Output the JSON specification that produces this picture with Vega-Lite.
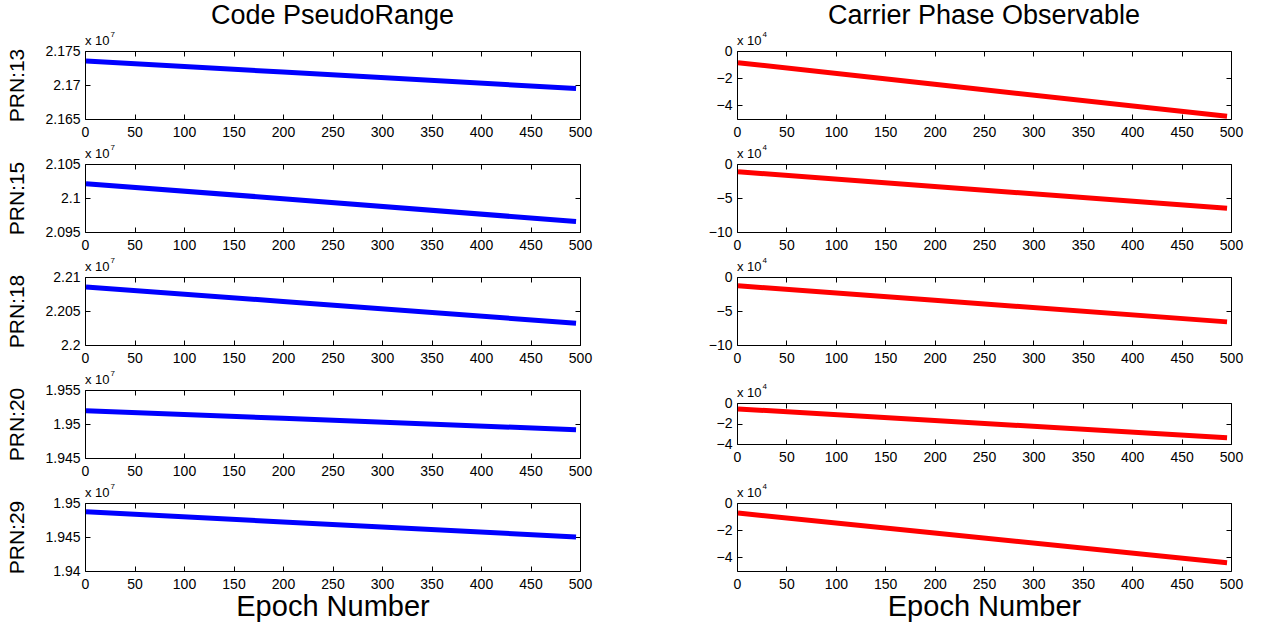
{
  "$schema": "https://vega.github.io/schema/vega-lite/v6.json",
  "background": "white",
  "padding": {"left": 6, "top": 1, "right": 0, "bottom": 0},
  "data": {"values": [
    {"prn": 13, "epoch": 1, "code": 21735200, "phase": -8600},
    {"prn": 13, "epoch": 200, "code": 21719000, "phase": -24500},
    {"prn": 13, "epoch": 496, "code": 21694800, "phase": -48000},
    {"prn": 15, "epoch": 1, "code": 21021100, "phase": -11400},
    {"prn": 15, "epoch": 200, "code": 20999000, "phase": -33000},
    {"prn": 15, "epoch": 496, "code": 20965400, "phase": -65200},
    {"prn": 18, "epoch": 1, "code": 22085300, "phase": -13000},
    {"prn": 18, "epoch": 200, "code": 22064000, "phase": -34300},
    {"prn": 18, "epoch": 496, "code": 22032000, "phase": -66000},
    {"prn": 20, "epoch": 1, "code": 19519400, "phase": -5800},
    {"prn": 20, "epoch": 200, "code": 19508300, "phase": -17100},
    {"prn": 20, "epoch": 496, "code": 19491600, "phase": -34000},
    {"prn": 29, "epoch": 1, "code": 19487100, "phase": -7400},
    {"prn": 29, "epoch": 200, "code": 19472200, "phase": -22100},
    {"prn": 29, "epoch": 496, "code": 19450000, "phase": -44000}
  ]},
  "config": {
    "view": {"stroke": "#000000", "strokeWidth": 1},
    "axis": {"grid": false, "domain": false, "domainColor": "#000000", "labelFont": "Liberation Sans", "labelFontSize": 14, "labelColor": "#000000", "tickColor": "#000000", "tickSize": -5, "labelPadding": 10, "labelFlush": false, "labelOverlap": false, "labelBound": false, "titleFont": "Liberation Sans", "titleFontWeight": "normal", "titleColor": "#000000"},
    "axisX": {"labelPadding": 11},
    "text": {"font": "Liberation Sans", "color": "#000000"},
    "title": {"font": "Liberation Sans", "fontWeight": "normal", "color": "#000000"}
  },
  "columns": 2,
  "bounds": "flush",
  "spacing": {"row": 45, "column": 157},
  "concat": [
    {
      "width": 495, "height": 68,
      "title": {"text": "Code PseudoRange", "fontSize": 27, "frame": "group", "offset": 1},
      "transform": [{"filter": "datum.prn == 13"}],
      "layer": [
        {"mark": {"type": "line", "color": "#0000ff", "strokeWidth": 5, "strokeCap": "butt"},
         "encoding": {
           "x": {"field": "epoch", "type": "quantitative", "scale": {"domain": [0, 500], "nice": false}, "axis": {"values": [0,50,100,150,200,250,300,350,400,450,500], "title": null}},
           "y": {"field": "code", "type": "quantitative", "scale": {"domain": [21650000, 21750000], "nice": false, "zero": false}, "axis": {"values": [21650000, 21700000, 21750000], "labelExpr": "format(datum.value/1e7, '.4~g')", "title": "PRN:13", "titleFontSize": 21, "titlePadding": 17}}
         }},
        {"mark": {"type": "line", "opacity": 0},
         "encoding": {
           "x": {"field": "epoch", "type": "quantitative", "axis": {"orient": "top", "labels": false, "title": null, "values": [0,50,100,150,200,250,300,350,400,450,500]}},
           "y": {"field": "code", "type": "quantitative", "axis": {"orient": "right", "labels": false, "title": null, "values": [21650000, 21700000, 21750000]}}
         }},
        {"transform": [{"filter": "datum.epoch == 1"}],
         "mark": {"type": "text", "text": "x 10", "align": "left", "baseline": "alphabetic", "fontSize": 13, "dy": -6},
         "encoding": {"x": {"datum": 0, "type": "quantitative", "axis": null}, "y": {"datum": 21750000, "type": "quantitative", "axis": null}}},
        {"transform": [{"filter": "datum.epoch == 1"}],
         "mark": {"type": "text", "text": "7", "align": "left", "baseline": "alphabetic", "fontSize": 8, "dx": 25.5, "dy": -14},
         "encoding": {"x": {"datum": 0, "type": "quantitative", "axis": null}, "y": {"datum": 21750000, "type": "quantitative", "axis": null}}}
      ],
      "resolve": {"axis": {"x": "independent", "y": "independent"}}
    },
    {
      "width": 494, "height": 68,
      "title": {"text": "Carrier Phase Observable", "fontSize": 27, "frame": "group", "offset": 1},
      "transform": [{"filter": "datum.prn == 13"}],
      "layer": [
        {"mark": {"type": "line", "color": "#ff0000", "strokeWidth": 5, "strokeCap": "butt"},
         "encoding": {
           "x": {"field": "epoch", "type": "quantitative", "scale": {"domain": [0, 500], "nice": false}, "axis": {"values": [0,50,100,150,200,250,300,350,400,450,500], "title": null}},
           "y": {"field": "phase", "type": "quantitative", "scale": {"domain": [-50000, 0], "nice": false, "zero": false}, "axis": {"values": [-40000, -20000, 0], "labelExpr": "format(datum.value/1e4, '~g')", "title": null}}
         }},
        {"mark": {"type": "line", "opacity": 0},
         "encoding": {
           "x": {"field": "epoch", "type": "quantitative", "axis": {"orient": "top", "labels": false, "title": null, "values": [0,50,100,150,200,250,300,350,400,450,500]}},
           "y": {"field": "phase", "type": "quantitative", "axis": {"orient": "right", "labels": false, "title": null, "values": [-40000, -20000, 0]}}
         }},
        {"transform": [{"filter": "datum.epoch == 1"}],
         "mark": {"type": "text", "text": "x 10", "align": "left", "baseline": "alphabetic", "fontSize": 13, "dy": -6},
         "encoding": {"x": {"datum": 0, "type": "quantitative", "axis": null}, "y": {"datum": 0, "type": "quantitative", "axis": null}}},
        {"transform": [{"filter": "datum.epoch == 1"}],
         "mark": {"type": "text", "text": "4", "align": "left", "baseline": "alphabetic", "fontSize": 8, "dx": 25.5, "dy": -14},
         "encoding": {"x": {"datum": 0, "type": "quantitative", "axis": null}, "y": {"datum": 0, "type": "quantitative", "axis": null}}}
      ],
      "resolve": {"axis": {"x": "independent", "y": "independent"}}
    },
    {
      "width": 495, "height": 68,
      "transform": [{"filter": "datum.prn == 15"}],
      "layer": [
        {"mark": {"type": "line", "color": "#0000ff", "strokeWidth": 5, "strokeCap": "butt"},
         "encoding": {
           "x": {"field": "epoch", "type": "quantitative", "scale": {"domain": [0, 500], "nice": false}, "axis": {"values": [0,50,100,150,200,250,300,350,400,450,500], "title": null}},
           "y": {"field": "code", "type": "quantitative", "scale": {"domain": [20950000, 21050000], "nice": false, "zero": false}, "axis": {"values": [20950000, 21000000, 21050000], "labelExpr": "format(datum.value/1e7, '.4~g')", "title": "PRN:15", "titleFontSize": 21, "titlePadding": 17}}
         }},
        {"mark": {"type": "line", "opacity": 0},
         "encoding": {
           "x": {"field": "epoch", "type": "quantitative", "axis": {"orient": "top", "labels": false, "title": null, "values": [0,50,100,150,200,250,300,350,400,450,500]}},
           "y": {"field": "code", "type": "quantitative", "axis": {"orient": "right", "labels": false, "title": null, "values": [20950000, 21000000, 21050000]}}
         }},
        {"transform": [{"filter": "datum.epoch == 1"}],
         "mark": {"type": "text", "text": "x 10", "align": "left", "baseline": "alphabetic", "fontSize": 13, "dy": -6},
         "encoding": {"x": {"datum": 0, "type": "quantitative", "axis": null}, "y": {"datum": 21050000, "type": "quantitative", "axis": null}}},
        {"transform": [{"filter": "datum.epoch == 1"}],
         "mark": {"type": "text", "text": "7", "align": "left", "baseline": "alphabetic", "fontSize": 8, "dx": 25.5, "dy": -14},
         "encoding": {"x": {"datum": 0, "type": "quantitative", "axis": null}, "y": {"datum": 21050000, "type": "quantitative", "axis": null}}}
      ],
      "resolve": {"axis": {"x": "independent", "y": "independent"}}
    },
    {
      "width": 494, "height": 68,
      "transform": [{"filter": "datum.prn == 15"}],
      "layer": [
        {"mark": {"type": "line", "color": "#ff0000", "strokeWidth": 5, "strokeCap": "butt"},
         "encoding": {
           "x": {"field": "epoch", "type": "quantitative", "scale": {"domain": [0, 500], "nice": false}, "axis": {"values": [0,50,100,150,200,250,300,350,400,450,500], "title": null}},
           "y": {"field": "phase", "type": "quantitative", "scale": {"domain": [-100000, 0], "nice": false, "zero": false}, "axis": {"values": [-100000, -50000, 0], "labelExpr": "format(datum.value/1e4, '~g')", "title": null}}
         }},
        {"mark": {"type": "line", "opacity": 0},
         "encoding": {
           "x": {"field": "epoch", "type": "quantitative", "axis": {"orient": "top", "labels": false, "title": null, "values": [0,50,100,150,200,250,300,350,400,450,500]}},
           "y": {"field": "phase", "type": "quantitative", "axis": {"orient": "right", "labels": false, "title": null, "values": [-100000, -50000, 0]}}
         }},
        {"transform": [{"filter": "datum.epoch == 1"}],
         "mark": {"type": "text", "text": "x 10", "align": "left", "baseline": "alphabetic", "fontSize": 13, "dy": -6},
         "encoding": {"x": {"datum": 0, "type": "quantitative", "axis": null}, "y": {"datum": 0, "type": "quantitative", "axis": null}}},
        {"transform": [{"filter": "datum.epoch == 1"}],
         "mark": {"type": "text", "text": "4", "align": "left", "baseline": "alphabetic", "fontSize": 8, "dx": 25.5, "dy": -14},
         "encoding": {"x": {"datum": 0, "type": "quantitative", "axis": null}, "y": {"datum": 0, "type": "quantitative", "axis": null}}}
      ],
      "resolve": {"axis": {"x": "independent", "y": "independent"}}
    },
    {
      "width": 495, "height": 68,
      "transform": [{"filter": "datum.prn == 18"}],
      "layer": [
        {"mark": {"type": "line", "color": "#0000ff", "strokeWidth": 5, "strokeCap": "butt"},
         "encoding": {
           "x": {"field": "epoch", "type": "quantitative", "scale": {"domain": [0, 500], "nice": false}, "axis": {"values": [0,50,100,150,200,250,300,350,400,450,500], "title": null}},
           "y": {"field": "code", "type": "quantitative", "scale": {"domain": [22000000, 22100000], "nice": false, "zero": false}, "axis": {"values": [22000000, 22050000, 22100000], "labelExpr": "format(datum.value/1e7, '.4~g')", "title": "PRN:18", "titleFontSize": 21, "titlePadding": 17}}
         }},
        {"mark": {"type": "line", "opacity": 0},
         "encoding": {
           "x": {"field": "epoch", "type": "quantitative", "axis": {"orient": "top", "labels": false, "title": null, "values": [0,50,100,150,200,250,300,350,400,450,500]}},
           "y": {"field": "code", "type": "quantitative", "axis": {"orient": "right", "labels": false, "title": null, "values": [22000000, 22050000, 22100000]}}
         }},
        {"transform": [{"filter": "datum.epoch == 1"}],
         "mark": {"type": "text", "text": "x 10", "align": "left", "baseline": "alphabetic", "fontSize": 13, "dy": -6},
         "encoding": {"x": {"datum": 0, "type": "quantitative", "axis": null}, "y": {"datum": 22100000, "type": "quantitative", "axis": null}}},
        {"transform": [{"filter": "datum.epoch == 1"}],
         "mark": {"type": "text", "text": "7", "align": "left", "baseline": "alphabetic", "fontSize": 8, "dx": 25.5, "dy": -14},
         "encoding": {"x": {"datum": 0, "type": "quantitative", "axis": null}, "y": {"datum": 22100000, "type": "quantitative", "axis": null}}}
      ],
      "resolve": {"axis": {"x": "independent", "y": "independent"}}
    },
    {
      "width": 494, "height": 68,
      "transform": [{"filter": "datum.prn == 18"}],
      "layer": [
        {"mark": {"type": "line", "color": "#ff0000", "strokeWidth": 5, "strokeCap": "butt"},
         "encoding": {
           "x": {"field": "epoch", "type": "quantitative", "scale": {"domain": [0, 500], "nice": false}, "axis": {"values": [0,50,100,150,200,250,300,350,400,450,500], "title": null}},
           "y": {"field": "phase", "type": "quantitative", "scale": {"domain": [-100000, 0], "nice": false, "zero": false}, "axis": {"values": [-100000, -50000, 0], "labelExpr": "format(datum.value/1e4, '~g')", "title": null}}
         }},
        {"mark": {"type": "line", "opacity": 0},
         "encoding": {
           "x": {"field": "epoch", "type": "quantitative", "axis": {"orient": "top", "labels": false, "title": null, "values": [0,50,100,150,200,250,300,350,400,450,500]}},
           "y": {"field": "phase", "type": "quantitative", "axis": {"orient": "right", "labels": false, "title": null, "values": [-100000, -50000, 0]}}
         }},
        {"transform": [{"filter": "datum.epoch == 1"}],
         "mark": {"type": "text", "text": "x 10", "align": "left", "baseline": "alphabetic", "fontSize": 13, "dy": -6},
         "encoding": {"x": {"datum": 0, "type": "quantitative", "axis": null}, "y": {"datum": 0, "type": "quantitative", "axis": null}}},
        {"transform": [{"filter": "datum.epoch == 1"}],
         "mark": {"type": "text", "text": "4", "align": "left", "baseline": "alphabetic", "fontSize": 8, "dx": 25.5, "dy": -14},
         "encoding": {"x": {"datum": 0, "type": "quantitative", "axis": null}, "y": {"datum": 0, "type": "quantitative", "axis": null}}}
      ],
      "resolve": {"axis": {"x": "independent", "y": "independent"}}
    },
    {
      "width": 495, "height": 68,
      "transform": [{"filter": "datum.prn == 20"}],
      "layer": [
        {"mark": {"type": "line", "color": "#0000ff", "strokeWidth": 5, "strokeCap": "butt"},
         "encoding": {
           "x": {"field": "epoch", "type": "quantitative", "scale": {"domain": [0, 500], "nice": false}, "axis": {"values": [0,50,100,150,200,250,300,350,400,450,500], "title": null}},
           "y": {"field": "code", "type": "quantitative", "scale": {"domain": [19450000, 19550000], "nice": false, "zero": false}, "axis": {"values": [19450000, 19500000, 19550000], "labelExpr": "format(datum.value/1e7, '.4~g')", "title": "PRN:20", "titleFontSize": 21, "titlePadding": 17}}
         }},
        {"mark": {"type": "line", "opacity": 0},
         "encoding": {
           "x": {"field": "epoch", "type": "quantitative", "axis": {"orient": "top", "labels": false, "title": null, "values": [0,50,100,150,200,250,300,350,400,450,500]}},
           "y": {"field": "code", "type": "quantitative", "axis": {"orient": "right", "labels": false, "title": null, "values": [19450000, 19500000, 19550000]}}
         }},
        {"transform": [{"filter": "datum.epoch == 1"}],
         "mark": {"type": "text", "text": "x 10", "align": "left", "baseline": "alphabetic", "fontSize": 13, "dy": -6},
         "encoding": {"x": {"datum": 0, "type": "quantitative", "axis": null}, "y": {"datum": 19550000, "type": "quantitative", "axis": null}}},
        {"transform": [{"filter": "datum.epoch == 1"}],
         "mark": {"type": "text", "text": "7", "align": "left", "baseline": "alphabetic", "fontSize": 8, "dx": 25.5, "dy": -14},
         "encoding": {"x": {"datum": 0, "type": "quantitative", "axis": null}, "y": {"datum": 19550000, "type": "quantitative", "axis": null}}}
      ],
      "resolve": {"axis": {"x": "independent", "y": "independent"}}
    },
    {
      "width": 494, "height": 68,
      "view": {"stroke": null},
      "transform": [{"filter": "datum.prn == 20"}],
      "layer": [
        {"mark": {"type": "line", "color": "#ff0000", "strokeWidth": 5, "strokeCap": "butt"},
         "encoding": {
           "x": {"field": "epoch", "type": "quantitative", "scale": {"domain": [0, 500], "nice": false}, "axis": {"values": [0,50,100,150,200,250,300,350,400,450,500], "title": null, "offset": -14, "domain": true}},
           "y": {"field": "phase", "type": "quantitative", "scale": {"domain": [-40000, 0], "range": [54, 13], "nice": false, "zero": false}, "axis": {"values": [-40000, -20000, 0], "labelExpr": "format(datum.value/1e4, '~g')", "title": null, "domain": true}}
         }},
        {"mark": {"type": "line", "opacity": 0},
         "encoding": {
           "x": {"field": "epoch", "type": "quantitative", "axis": {"orient": "top", "labels": false, "title": null, "offset": -13, "domain": true, "values": [0,50,100,150,200,250,300,350,400,450,500]}},
           "y": {"field": "phase", "type": "quantitative", "axis": {"orient": "right", "labels": false, "title": null, "domain": true, "values": [-40000, -20000, 0]}}
         }},
        {"transform": [{"filter": "datum.epoch == 1"}],
         "mark": {"type": "text", "text": "x 10", "align": "left", "baseline": "alphabetic", "fontSize": 13, "dy": -6},
         "encoding": {"x": {"datum": 0, "type": "quantitative", "axis": null}, "y": {"datum": 0, "type": "quantitative", "axis": null}}},
        {"transform": [{"filter": "datum.epoch == 1"}],
         "mark": {"type": "text", "text": "4", "align": "left", "baseline": "alphabetic", "fontSize": 8, "dx": 25.5, "dy": -14},
         "encoding": {"x": {"datum": 0, "type": "quantitative", "axis": null}, "y": {"datum": 0, "type": "quantitative", "axis": null}}}
      ],
      "resolve": {"axis": {"x": "independent", "y": "independent"}}
    },
    {
      "width": 495, "height": 68,
      "transform": [{"filter": "datum.prn == 29"}],
      "layer": [
        {"mark": {"type": "line", "color": "#0000ff", "strokeWidth": 5, "strokeCap": "butt"},
         "encoding": {
           "x": {"field": "epoch", "type": "quantitative", "scale": {"domain": [0, 500], "nice": false}, "axis": {"values": [0,50,100,150,200,250,300,350,400,450,500], "title": "Epoch Number", "titleFontSize": 29, "titlePadding": 1}},
           "y": {"field": "code", "type": "quantitative", "scale": {"domain": [19400000, 19500000], "nice": false, "zero": false}, "axis": {"values": [19400000, 19450000, 19500000], "labelExpr": "format(datum.value/1e7, '.4~g')", "title": "PRN:29", "titleFontSize": 21, "titlePadding": 17}}
         }},
        {"mark": {"type": "line", "opacity": 0},
         "encoding": {
           "x": {"field": "epoch", "type": "quantitative", "axis": {"orient": "top", "labels": false, "title": null, "values": [0,50,100,150,200,250,300,350,400,450,500]}},
           "y": {"field": "code", "type": "quantitative", "axis": {"orient": "right", "labels": false, "title": null, "values": [19400000, 19450000, 19500000]}}
         }},
        {"transform": [{"filter": "datum.epoch == 1"}],
         "mark": {"type": "text", "text": "x 10", "align": "left", "baseline": "alphabetic", "fontSize": 13, "dy": -6},
         "encoding": {"x": {"datum": 0, "type": "quantitative", "axis": null}, "y": {"datum": 19500000, "type": "quantitative", "axis": null}}},
        {"transform": [{"filter": "datum.epoch == 1"}],
         "mark": {"type": "text", "text": "7", "align": "left", "baseline": "alphabetic", "fontSize": 8, "dx": 25.5, "dy": -14},
         "encoding": {"x": {"datum": 0, "type": "quantitative", "axis": null}, "y": {"datum": 19500000, "type": "quantitative", "axis": null}}}
      ],
      "resolve": {"axis": {"x": "independent", "y": "independent"}}
    },
    {
      "width": 494, "height": 68,
      "transform": [{"filter": "datum.prn == 29"}],
      "layer": [
        {"mark": {"type": "line", "color": "#ff0000", "strokeWidth": 5, "strokeCap": "butt"},
         "encoding": {
           "x": {"field": "epoch", "type": "quantitative", "scale": {"domain": [0, 500], "nice": false}, "axis": {"values": [0,50,100,150,200,250,300,350,400,450,500], "title": "Epoch Number", "titleFontSize": 29, "titlePadding": 1}},
           "y": {"field": "phase", "type": "quantitative", "scale": {"domain": [-50000, 0], "nice": false, "zero": false}, "axis": {"values": [-40000, -20000, 0], "labelExpr": "format(datum.value/1e4, '~g')", "title": null}}
         }},
        {"mark": {"type": "line", "opacity": 0},
         "encoding": {
           "x": {"field": "epoch", "type": "quantitative", "axis": {"orient": "top", "labels": false, "title": null, "values": [0,50,100,150,200,250,300,350,400,450,500]}},
           "y": {"field": "phase", "type": "quantitative", "axis": {"orient": "right", "labels": false, "title": null, "values": [-40000, -20000, 0]}}
         }},
        {"transform": [{"filter": "datum.epoch == 1"}],
         "mark": {"type": "text", "text": "x 10", "align": "left", "baseline": "alphabetic", "fontSize": 13, "dy": -6},
         "encoding": {"x": {"datum": 0, "type": "quantitative", "axis": null}, "y": {"datum": 0, "type": "quantitative", "axis": null}}},
        {"transform": [{"filter": "datum.epoch == 1"}],
         "mark": {"type": "text", "text": "4", "align": "left", "baseline": "alphabetic", "fontSize": 8, "dx": 25.5, "dy": -14},
         "encoding": {"x": {"datum": 0, "type": "quantitative", "axis": null}, "y": {"datum": 0, "type": "quantitative", "axis": null}}}
      ],
      "resolve": {"axis": {"x": "independent", "y": "independent"}}
    }
  ]
}
